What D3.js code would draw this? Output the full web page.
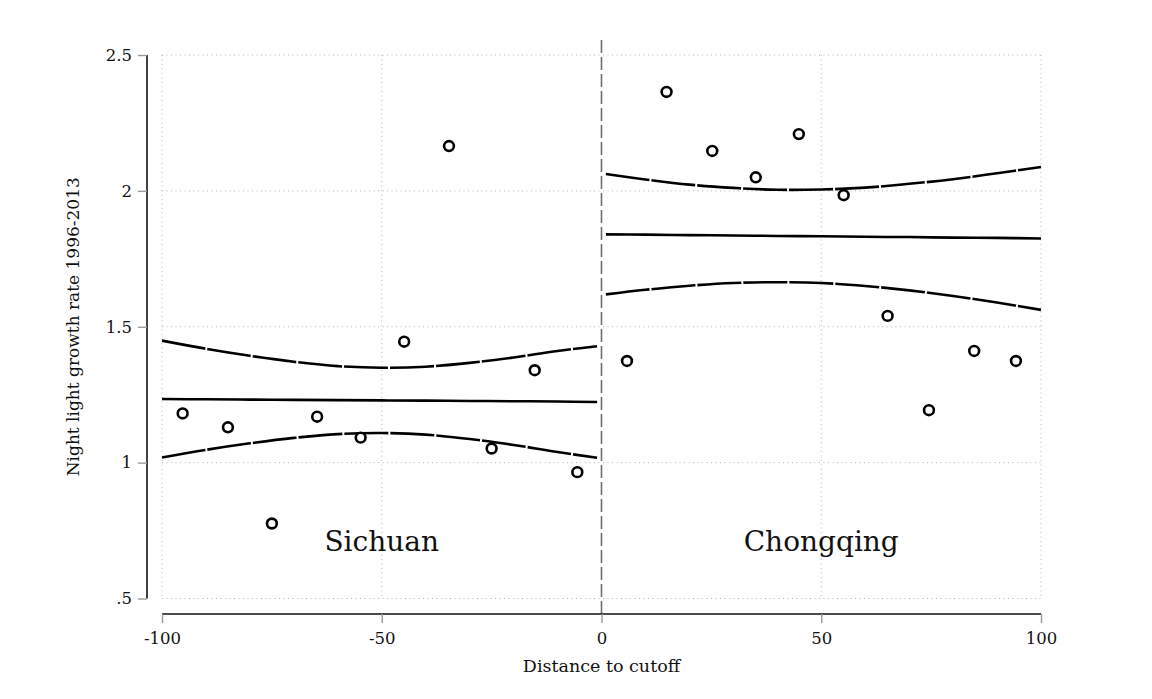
<!DOCTYPE html>
<html>
<head>
<meta charset="utf-8">
<script src="https://cdn.jsdelivr.net/npm/d3@7"></script>
<style>
  body { margin: 0; background: #fff; }
  svg { display: block; font-family: "DejaVu Serif", serif; }
</style>
</head>
<body>
<svg id="chart" width="1152" height="699"></svg>
<script>
// scatter bins (distance to cutoff, growth rate)
const sichuanX = [-95.3, -85, -75, -64.7, -54.8, -44.9, -34.7, -25, -15.2, -5.5];
const sichuanY = [1.181, 1.130, 0.776, 1.169, 1.092, 1.445, 2.165, 1.052, 1.340, 0.965];
const chongqingX = [5.8, 14.8, 25.2, 35.1, 44.9, 55.1, 65.1, 74.5, 84.8, 94.3];
const chongqingY = [1.374, 2.364, 2.147, 2.050, 2.209, 1.984, 1.540, 1.193, 1.411, 1.374];

// fitted line and CI
const leftFitX = [-100, -90, -80, -70, -60, -50, -40, -30, -20, -10, -1];
const leftFit = [1.234, 1.233, 1.232, 1.231, 1.230, 1.229, 1.228, 1.227, 1.226, 1.225, 1.223];
const leftUpper = [1.449, 1.419, 1.393, 1.371, 1.355, 1.349, 1.353, 1.367, 1.387, 1.411, 1.428];
const leftLower = [1.019, 1.047, 1.071, 1.091, 1.105, 1.109, 1.103, 1.087, 1.065, 1.039, 1.018];

const rightFitX = [1, 10, 20, 30, 40, 50, 60, 70, 80, 90, 100];
const rightFit = [1.840, 1.839, 1.837, 1.836, 1.834, 1.833, 1.831, 1.830, 1.828, 1.827, 1.825];
const rightUpper = [2.062, 2.042, 2.023, 2.011, 2.004, 2.005, 2.012, 2.026, 2.043, 2.065, 2.088];
const rightLower = [1.619, 1.636, 1.651, 1.661, 1.664, 1.661, 1.650, 1.634, 1.613, 1.589, 1.562];

const xTicks = [-100, -50, 0, 50, 100];
const xTickLabels = ["-100", "-50", "0", "50", "100"];
const yTicks = [0.5, 1, 1.5, 2, 2.5];
const yTickLabels = [".5", "1", "1.5", "2", "2.5"];

const svg = d3.select("#chart");

const x = d3.scaleLinear().domain([-100, 100]).range([162, 1041]);
const y = d3.scaleLinear().domain([0.5, 2.5]).range([598.5, 55]);

// gridlines
const grid = svg.append("g")
    .attr("stroke", "#b5b5b5")
    .attr("stroke-width", 1)
    .attr("stroke-dasharray", "1,3.5");

grid.selectAll(".hg")
    .data(yTicks)
    .enter()
    .append("line")
    .attr("x1", x(-100))
    .attr("x2", x(100))
    .attr("y1", d => y(d))
    .attr("y2", d => y(d));

grid.selectAll(".vg")
    .data(xTicks.filter(d => d !== 0))
    .enter()
    .append("line")
    .attr("x1", d => x(d))
    .attr("x2", d => x(d))
    .attr("y1", y(2.5))
    .attr("y2", y(0.5));

// cutoff line
svg.append("line")
    .attr("x1", x(0))
    .attr("x2", x(0))
    .attr("y1", 40)
    .attr("y2", 614)
    .attr("stroke", "#6e6e6e")
    .attr("stroke-width", 1.6)
    .attr("stroke-dasharray", "13,4");

// axes
const yAxis = svg.append("g")
    .attr("transform", "translate(147,0)")
    .call(d3.axisLeft(y).tickValues(yTicks).tickSize(9).tickPadding(6)
        .tickFormat((d, i) => yTickLabels[i]));

const xAxis = svg.append("g")
    .attr("transform", "translate(0,614)")
    .call(d3.axisBottom(x).tickValues(xTicks).tickSize(9).tickPadding(9)
        .tickFormat((d, i) => xTickLabels[i]));

[yAxis, xAxis].forEach(ax => {
    ax.select(".domain").attr("stroke", "#111").attr("stroke-width", 1.6);
    ax.selectAll(".tick line").attr("stroke", "#9a9a9a").attr("stroke-width", 1.4);
    ax.selectAll(".tick text")
        .attr("font-family", "DejaVu Serif")
        .attr("font-size", 16.5)
        .attr("fill", "#111");
});
xAxis.select(".domain").attr("d", `M${x(-100)},0H${x(100)}`);
yAxis.select(".domain").attr("d", `M0,${y(2.5)}V${y(0.5)}`);

// fit lines
function drawFit(xs, fit, up, lo) {
    const pts = arr => xs.map((d, i) => [x(d), y(arr[i])]);
    const line = d3.line().curve(d3.curveCatmullRom);

    [up, lo].forEach(arr => {
        svg.append("path")
            .attr("d", line(pts(arr)))
            .attr("fill", "none")
            .attr("stroke", "#000")
            .attr("stroke-width", 2.6)
            .attr("stroke-dasharray", "44,2");
    });

    svg.append("path")
        .attr("d", line(pts(fit)))
        .attr("fill", "none")
        .attr("stroke", "#000")
        .attr("stroke-width", 2.6);
}
drawFit(leftFitX, leftFit, leftUpper, leftLower);
drawFit(rightFitX, rightFit, rightUpper, rightLower);

// points
function drawPoints(xs, ys) {
    svg.append("g")
        .selectAll("circle")
        .data(xs)
        .enter()
        .append("circle")
        .attr("cx", d => x(d))
        .attr("cy", (d, i) => y(ys[i]))
        .attr("r", 4.9)
        .attr("fill", "#fff")
        .attr("stroke", "#000")
        .attr("stroke-width", 2.6);
}
drawPoints(sichuanX, sichuanY);
drawPoints(chongqingX, chongqingY);

// region labels
svg.append("text")
    .attr("x", x(-50))
    .attr("y", 551)
    .attr("text-anchor", "middle")
    .attr("font-size", 28)
    .attr("fill", "#111")
    .text("Sichuan");

svg.append("text")
    .attr("x", x(50))
    .attr("y", 551)
    .attr("text-anchor", "middle")
    .attr("font-size", 28)
    .attr("fill", "#111")
    .text("Chongqing");

// axis titles
svg.append("text")
    .attr("x", x(0))
    .attr("y", 672)
    .attr("text-anchor", "middle")
    .attr("font-size", 17.5)
    .attr("fill", "#111")
    .text("Distance to cutoff");

svg.append("text")
    .attr("transform", "rotate(-90)")
    .attr("x", -y(1.5))
    .attr("y", 79)
    .attr("text-anchor", "middle")
    .attr("font-size", 17)
    .attr("fill", "#111")
    .text("Night light growth rate 1996-2013");
</script>
</body>
</html>
